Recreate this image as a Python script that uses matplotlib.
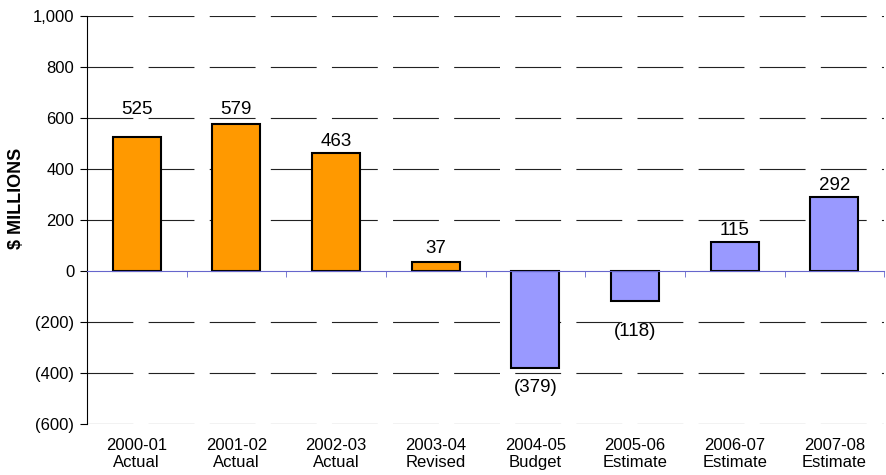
import numpy as np
import matplotlib.pyplot as plt

plt.rcParams['font.family'] = ['Liberation Sans', 'DejaVu Sans']
plt.rcParams['lines.scale_dashes'] = False

years = ['2000-01', '2001-02', '2002-03', '2003-04', '2004-05', '2005-06', '2006-07', '2007-08']
kinds = ['Actual', 'Actual', 'Actual', 'Revised', 'Budget', 'Estimate', 'Estimate', 'Estimate']
values = [525, 579, 463, 37, -379, -118, 115, 292]
colors = ['#FF9900'] * 4 + ['#9999FF'] * 4
# label nudges in points (as placed in the original)
label_off = [17, 7, 5, 6, -8, -16, 5, 5]

def fmt(v):
    return '({:,})'.format(-v) if v < 0 else '{:,}'.format(v)

fig = plt.figure(figsize=(8.86, 4.75), dpi=100)
ax = fig.add_axes([0.098, 0.107, 0.90, 0.859])

x = np.arange(len(values))
ax.bar(x, values, width=0.48, color=colors, edgecolor='black', linewidth=1.5, zorder=3)

# value labels
for xi, v, off in zip(x, values, label_off):
    ax.annotate(fmt(v), (xi, v), xytext=(0, off), textcoords='offset points',
                ha='center', va='baseline' if v >= 0 else 'top', fontsize=13.5, zorder=5)

ax.set_xlim(-0.5, len(values) - 0.5)
ax.set_ylim(-600, 1000)
yt = np.arange(-600, 1001, 200)
ax.set_yticks(yt)
ax.set_yticklabels([fmt(int(v)) for v in yt], fontsize=12)
ax.tick_params(axis='y', length=5, width=0.8, color='black', pad=4)

# dashed gridlines
for v in yt:
    if v != 0:
        ax.axhline(v, color='#222222', linewidth=0.8, dashes=(33, 11), zorder=1)

# zero axis with category boundary ticks
ax.spines['bottom'].set_position(('data', 0))
ax.spines['bottom'].set_color('#6666CC')
ax.spines['bottom'].set_zorder(4)
ax.set_xticks(x)
ax.set_xticklabels([])
ax.tick_params(axis='x', which='major', length=0)
ax.set_xticks(np.arange(-0.5, len(values)), minor=True)
ax.tick_params(axis='x', which='minor', length=4, color='#6666CC', direction='out')
ax.spines['top'].set_visible(False)
ax.spines['right'].set_visible(False)
ax.spines['left'].set_linewidth(0.8)

sec = ax.secondary_xaxis('bottom')
sec.set_xticks(x)
sec.set_xticklabels([y + '\n' + k for y, k in zip(years, kinds)], fontsize=12, linespacing=1.2)
sec.tick_params(length=0, pad=10)
sec.spines['bottom'].set_visible(False)

ax.set_ylabel('$ MILLIONS', fontsize=13, fontweight='bold')
ax.yaxis.set_label_coords(-0.078, 0.554)

fig.savefig('out.png', dpi=100)
